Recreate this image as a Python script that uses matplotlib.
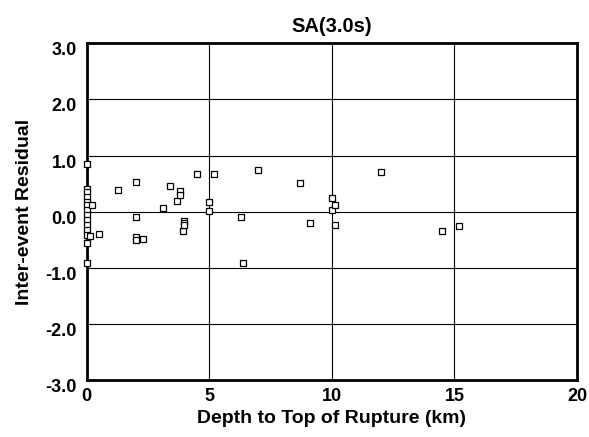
import matplotlib
matplotlib.use("Agg")
import matplotlib.pyplot as plt
from matplotlib.transforms import ScaledTranslation

plt.rcParams["font.family"] = ["Liberation Sans", "DejaVu Sans"]
plt.rcParams["font.weight"] = "bold"

# depth to top of rupture (km) and inter-event residuals
depth_zero_res = [0.85, 0.41, 0.35, 0.27, 0.18, 0.12, 0.03, -0.06, -0.15,
                  -0.24, -0.33, -0.42, -0.56, -0.92]
depth = [0.2, 0.13, 0.5, 1.29, 2.0, 2.0, 2.0, 2.0, 2.28, 3.1, 3.39, 3.69,
         3.8, 3.8, 3.94, 3.98, 3.98, 3.98, 4.48, 5.0, 5.0, 5.19, 6.29,
         6.38, 6.99, 8.7, 9.1, 10.0, 10.0, 10.12, 10.12, 11.99, 14.5, 15.19]
resid = [0.12, -0.43, -0.40, 0.385, 0.53, -0.10, -0.46, -0.51, -0.49, 0.064,
         0.46, 0.19, 0.37, 0.30, -0.35, -0.17, -0.21, -0.24, 0.67, 0.165,
         0.016, 0.67, -0.10, -0.92, 0.75, 0.51, -0.20, 0.25, 0.035, 0.12,
         -0.245, 0.71, -0.35, -0.26]

xticks = [0, 5, 10, 15, 20]
yticks = [-3, -2, -1, 0, 1, 2, 3]

fig = plt.figure(figsize=(5.89, 4.37), dpi=100)
ax = fig.add_axes([0.1472, 0.1304, 0.8324, 0.7705])

xs = [0.0] * len(depth_zero_res) + depth
ys = depth_zero_res + resid
ax.plot(xs, ys, linestyle="none", marker="s", markersize=4.6,
        markerfacecolor="white", markeredgecolor="black",
        markeredgewidth=0.9, zorder=3, clip_on=False)

ax.set_xlim(0, 20)
ax.set_ylim(-3, 3)
ax.set_xticks(xticks)
ax.set_xticklabels([str(t) for t in xticks])
ax.set_yticks(yticks)
ax.set_yticklabels(["%.1f" % t for t in yticks])
ax.tick_params(length=0, labelsize=13)
ax.tick_params(axis="x", pad=6)
ax.tick_params(axis="y", pad=7)
# y labels in the original sit a little below their grid lines
shift = ScaledTranslation(0, -4 / 72, fig.dpi_scale_trans)
for lab in ax.get_yticklabels():
    lab.set_transform(lab.get_transform() + shift)
for lab in ax.get_xticklabels() + ax.get_yticklabels():
    lab.set_fontweight("bold")

ax.grid(True, color="black", linewidth=0.8)
ax.set_axisbelow(True)
for sp in ax.spines.values():
    sp.set_linewidth(2)

ax.set_title("SA(3.0s)", fontsize=14.5, fontweight="bold", pad=8)
ax.set_xlabel("Depth to Top of Rupture (km)", fontsize=14,
              fontweight="bold", labelpad=3)
ax.set_ylabel("Inter-event Residual", fontsize=14, fontweight="bold",
              labelpad=9)

fig.savefig("out.png", dpi=100)
